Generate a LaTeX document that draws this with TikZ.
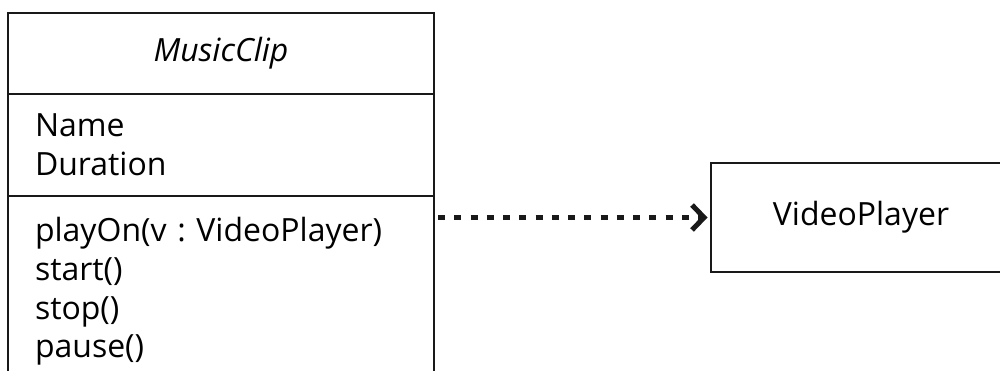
\documentclass[tikz,border=0pt]{standalone}
\usepackage{fontspec}
\setmainfont{Open Sans}
\usetikzlibrary{positioning,arrows.meta}

\begin{document}
\begin{tikzpicture}[
    font=\fontsize{18.2pt}{22pt}\selectfont,
    box/.style={draw=black!90, line width=0.04cm, outer sep=0pt, inner ysep=0pt,
      inner xsep=0.54cm, text width=7.44cm},
    classname/.style={box, minimum height=1.62cm, align=center, font=\fontsize{18.2pt}{22pt}\selectfont\itshape},
    attrs/.style={box, minimum height=2.04cm, align=left},
    opers/.style={box, align=left, text height=0.92cm, text depth=4cm},
    simple/.style={draw=black!90, line width=0.04cm, outer sep=0pt, minimum width=6cm, minimum height=2.18cm},
    dep/.style={line width=0.1cm, dash pattern=on 0.14cm off 0.185cm, black!90,
      -{Straight Barb[length=0.24cm, width=0.5cm]}, shorten <=0.08cm, shorten >=0.07cm}
  ]
  \clip (0,0) rectangle (20,7.42);
  % class box
  \node[classname, anchor=north west] (clip) at (0.16,7.16) {MusicClip};
  \node[attrs, below=0pt of clip] (clipattr) {Name\\Duration};
  \node[opers, below=0pt of clipattr] (clipops) {playOn(v :\ VideoPlayer)\\start()\\stop()\\pause()};
  % used class
  \node[simple, anchor=west] (player) at (14.22,3.07) {VideoPlayer};
  % dependency
  \draw[dep] (player.west -| clipops.east) -- (player.west);
\end{tikzpicture}
\end{document}
